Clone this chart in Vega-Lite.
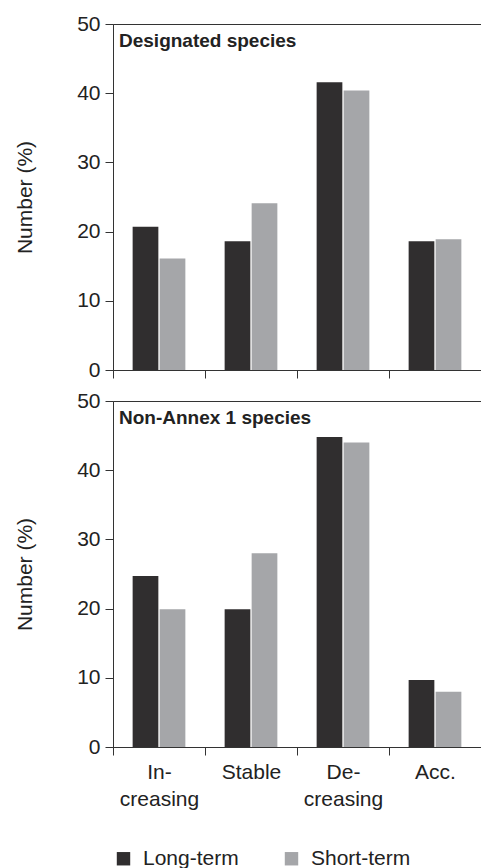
{
  "$schema": "https://vega.github.io/schema/vega-lite/v6.json",
  "padding": {"left": 14, "top": 12, "right": 0, "bottom": 5},
  "background": "white",
  "config": {
    "font": "Liberation Sans",
    "view": {"stroke": "#333333", "strokeWidth": 1},
    "axis": {
      "domainColor": "#333333", "tickColor": "#333333", "labelColor": "#222222", "titleColor": "#222222",
      "labelFontSize": 21, "titleFontSize": 21, "titleFontWeight": "normal", "grid": false, "tickSize": 8,
      "domainWidth": 1, "tickWidth": 1
    },
    "legend": {
      "direction": "horizontal", "labelFontSize": 21, "labelColor": "#222222",
      "symbolType": "square", "symbolSize": 180, "symbolStrokeWidth": 0, "labelOffset": 9,
      "columnPadding": 42, "padding": 0
    }
  },
  "datasets": {
    "d": [
      {"panel": "Designated species", "trend": "Increasing", "term": "Long-term", "value": 20.7},
      {"panel": "Designated species", "trend": "Increasing", "term": "Short-term", "value": 16.1},
      {"panel": "Designated species", "trend": "Stable", "term": "Long-term", "value": 18.6},
      {"panel": "Designated species", "trend": "Stable", "term": "Short-term", "value": 24.1},
      {"panel": "Designated species", "trend": "Decreasing", "term": "Long-term", "value": 41.6},
      {"panel": "Designated species", "trend": "Decreasing", "term": "Short-term", "value": 40.4},
      {"panel": "Designated species", "trend": "Acc.", "term": "Long-term", "value": 18.6},
      {"panel": "Designated species", "trend": "Acc.", "term": "Short-term", "value": 18.9},
      {"panel": "Non-Annex 1 species", "trend": "Increasing", "term": "Long-term", "value": 24.7},
      {"panel": "Non-Annex 1 species", "trend": "Increasing", "term": "Short-term", "value": 19.9},
      {"panel": "Non-Annex 1 species", "trend": "Stable", "term": "Long-term", "value": 19.9},
      {"panel": "Non-Annex 1 species", "trend": "Stable", "term": "Short-term", "value": 28.0},
      {"panel": "Non-Annex 1 species", "trend": "Decreasing", "term": "Long-term", "value": 44.8},
      {"panel": "Non-Annex 1 species", "trend": "Decreasing", "term": "Short-term", "value": 44.0},
      {"panel": "Non-Annex 1 species", "trend": "Acc.", "term": "Long-term", "value": 9.7},
      {"panel": "Non-Annex 1 species", "trend": "Acc.", "term": "Short-term", "value": 8.0}
    ],
    "titles": [
      {"panel": "Designated species", "trend": "Increasing", "pos": 46.7},
      {"panel": "Non-Annex 1 species", "trend": "Increasing", "pos": 46.7}
    ]
  },
  "spacing": 31,
  "bounds": "flush",
  "vconcat": [
    {
      "width": 368, "height": 346,
      "layer": [
        {
          "data": {"name": "d"},
          "transform": [{"filter": "datum.panel == 'Designated species'"}],
          "mark": {"type": "bar"},
          "encoding": {
            "x": {"field": "trend", "type": "nominal", "sort": ["Increasing", "Stable", "Decreasing", "Acc."],
                  "scale": {"paddingInner": 0, "paddingOuter": 0},
                  "axis": {"title": null, "labels": false, "tickBand": "extent"}},
            "xOffset": {"field": "term", "type": "nominal", "sort": ["Long-term", "Short-term"],
                        "scale": {"paddingInner": 0.048, "paddingOuter": 0.727}},
            "y": {"field": "value", "type": "quantitative", "scale": {"domain": [0, 50]},
                  "axis": {"title": "Number (%)", "values": [0, 10, 20, 30, 40, 50], "titlePadding": 41, "labelPadding": 5}},
            "color": {"field": "term", "type": "nominal",
                      "scale": {"domain": ["Long-term", "Short-term"], "range": ["#302e2f", "#a5a6a9"]},
                      "legend": {"title": null, "orient": "none", "legendX": 0, "legendY": 824}}
          }
        },
        {
          "data": {"name": "titles"},
          "transform": [{"filter": "datum.panel == 'Designated species'"}],
          "mark": {"type": "text", "align": "left", "baseline": "alphabetic", "dx": 6, "fontSize": 19, "fontWeight": "bold", "color": "#222222"},
          "encoding": {
            "x": {"field": "trend", "type": "nominal", "bandPosition": 0, "sort": ["Increasing", "Stable", "Decreasing", "Acc."]},
            "y": {"field": "pos", "type": "quantitative"},
            "text": {"field": "panel"}
          }
        }
      ]
    },
    {
      "width": 368, "height": 346,
      "layer": [
        {
          "data": {"name": "d"},
          "transform": [{"filter": "datum.panel == 'Non-Annex 1 species'"}],
          "mark": {"type": "bar"},
          "encoding": {
            "x": {"field": "trend", "type": "nominal", "sort": ["Increasing", "Stable", "Decreasing", "Acc."],
                  "scale": {"paddingInner": 0, "paddingOuter": 0},
                  "axis": {"title": null, "tickBand": "extent", "labelAngle": 0, "labelPadding": 6, "labelLineHeight": 27,
                           "labelExpr": "datum.value == 'Increasing' ? ['In-', 'creasing'] : datum.value == 'Decreasing' ? ['De-', 'creasing'] : datum.value"}},
            "xOffset": {"field": "term", "type": "nominal", "sort": ["Long-term", "Short-term"],
                        "scale": {"paddingInner": 0.048, "paddingOuter": 0.727}},
            "y": {"field": "value", "type": "quantitative", "scale": {"domain": [0, 50]},
                  "axis": {"title": "Number (%)", "values": [0, 10, 20, 30, 40, 50], "titlePadding": 41, "labelPadding": 5}},
            "color": {"field": "term", "type": "nominal",
                      "scale": {"domain": ["Long-term", "Short-term"], "range": ["#302e2f", "#a5a6a9"]},
                      "legend": {"title": null, "orient": "none", "legendX": 0, "legendY": 824}}
          }
        },
        {
          "data": {"name": "titles"},
          "transform": [{"filter": "datum.panel == 'Non-Annex 1 species'"}],
          "mark": {"type": "text", "align": "left", "baseline": "alphabetic", "dx": 6, "fontSize": 19, "fontWeight": "bold", "color": "#222222"},
          "encoding": {
            "x": {"field": "trend", "type": "nominal", "bandPosition": 0, "sort": ["Increasing", "Stable", "Decreasing", "Acc."]},
            "y": {"field": "pos", "type": "quantitative"},
            "text": {"field": "panel"}
          }
        }
      ]
    }
  ]
}
